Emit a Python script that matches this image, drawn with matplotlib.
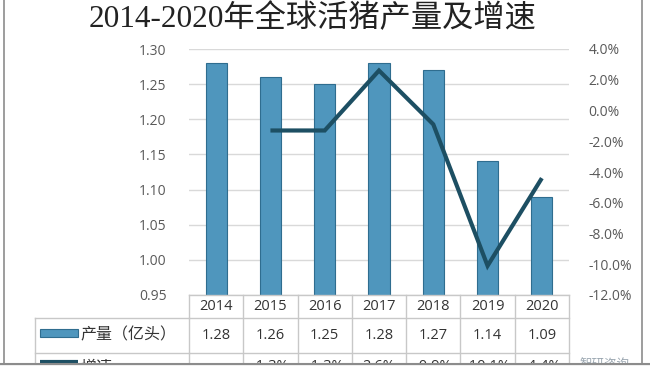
import matplotlib.pyplot as plt
import matplotlib.transforms as mtransforms
from matplotlib.lines import Line2D
from matplotlib.patches import Rectangle

years = ['2014', '2015', '2016', '2017', '2018', '2019', '2020']
output = [1.28, 1.26, 1.25, 1.28, 1.27, 1.14, 1.09]          # 亿头
growth = [None, -1.3, -1.3, 2.6, -0.9, -10.1, -4.4]          # %
growth_labels = ['', '-1.3%', '-1.3%', '2.6%', '-0.9%', '-10.1%', '-4.4%']

title = '2014-2020年全球活猪产量及增速'
row_names = ['产量（亿头）', '增速']

W, H = 650, 366
bar_color = '#4f96bd'
bar_edge = '#2f6d8f'
line_color = '#1d4f63'
grid_color = '#d9d9d9'
tick_color = '#595959'
cell_color = '#c8c8c8'

plt.rcParams['font.family'] = ['Open Sans', 'Noto Sans CJK SC', 'DejaVu Sans']


def fx(x):
    return x / W


def fy(y):
    return 1 - y / H


fig = plt.figure(figsize=(6.5, 3.66), dpi=100)
ax = fig.add_axes([fx(189), fy(295), fx(569) - fx(189), fy(49) - fy(295)])

xs = list(range(len(years)))
ax.bar(xs, output, width=0.39, color=bar_color, edgecolor=bar_edge, linewidth=0.8, zorder=2)
ax.set_xlim(-0.5, len(years) - 0.5)
ax.set_ylim(0.95, 1.30)
ax.set_yticks([0.95 + 0.05 * i for i in range(8)])
ax.yaxis.set_major_formatter(plt.FormatStrFormatter('%.2f'))
ax.set_xticks([])
ax.grid(axis='y', color=grid_color, linewidth=1, zorder=0)
ax.tick_params(axis='y', length=0, pad=16, labelsize=10, labelcolor=tick_color)
for s in ax.spines.values():
    s.set_visible(False)

ax2 = ax.twinx()
gx = [x for x, g in zip(xs, growth) if g is not None]
gy = [g for g in growth if g is not None]
ax2.plot(gx, gy, color=line_color, linewidth=3, solid_capstyle='butt', solid_joinstyle='miter', zorder=3)
ax2.set_ylim(-12, 4)
ax2.set_yticks(list(range(-12, 5, 2)))
ax2.yaxis.set_major_formatter(plt.FormatStrFormatter('%.1f%%'))
ax2.tick_params(axis='y', length=0, pad=14, labelsize=10, labelcolor=tick_color)
for s in ax2.spines.values():
    s.set_visible(False)

# title
fig.text(fx(313), fy(19), title, ha='center', va='center', fontsize=22.5,
         color='#222222', family=['Liberation Serif', 'Noto Sans CJK SC'])

# data table under the chart
blend = mtransforms.blended_transform_factory(ax.transData, fig.transFigure)
n = len(years)
for i in range(n + 1):
    fig.add_artist(Line2D([i - 0.5, i - 0.5], [fy(295), fy(366)], transform=blend,
                          color=cell_color, linewidth=1))
fig.add_artist(Line2D([-0.5, n - 0.5], [fy(295), fy(295)], transform=blend, color=cell_color, linewidth=1))
for yy in (318, 352.5):
    fig.add_artist(Line2D([fx(35), fx(189)], [fy(yy), fy(yy)], transform=fig.transFigure,
                          color=cell_color, linewidth=1))
    fig.add_artist(Line2D([-0.5, n - 0.5], [fy(yy), fy(yy)], transform=blend, color=cell_color, linewidth=1))
fig.add_artist(Line2D([fx(35), fx(35)], [fy(318), fy(366)], transform=fig.transFigure,
                      color=cell_color, linewidth=1))

for i, yr in enumerate(years):
    fig.text(i, fy(307), yr, transform=blend, ha='center', va='center', fontsize=10.5, color='#333333')
    fig.text(i, fy(335.5), '%.2f' % output[i], transform=blend, ha='center', va='center',
             fontsize=10.5, color='#333333')
    fig.text(i, fy(366), growth_labels[i], transform=blend, ha='center', va='center',
             fontsize=10.5, color='#333333')

# row labels with legend keys
fig.add_artist(Rectangle((fx(40), fy(337)), fx(38), fy(329) - fy(337), transform=fig.transFigure,
                         facecolor=bar_color, edgecolor=bar_edge, linewidth=0.8))
fig.text(fx(80), fy(335.5), row_names[0], ha='left', va='center', fontsize=11.5, color='#333333')
fig.add_artist(Line2D([fx(40), fx(78)], [fy(362), fy(362)], transform=fig.transFigure,
                      color=line_color, linewidth=3, solid_capstyle='butt'))
fig.text(fx(80), fy(368), row_names[1], ha='left', va='center', fontsize=11.5, color='#333333')

# watermark, cut by the frame
fig.text(fx(605), fy(364), '智研咨询', ha='center', va='center', fontsize=9, color='#9aa6b0')

# cover below the bottom frame line
fig.add_artist(Rectangle((0, 0), 1, fy(363.5), transform=fig.transFigure,
                         facecolor='#f4f4f4', edgecolor='none', zorder=10))
frame_color = '#8c8c8c'
fig.add_artist(Line2D([0, 1], [fy(363.5), fy(363.5)], transform=fig.transFigure,
                      color=frame_color, linewidth=1.5, zorder=11))
fig.add_artist(Line2D([fx(4), fx(4)], [fy(0), fy(363.5)], transform=fig.transFigure,
                      color=frame_color, linewidth=1.2, zorder=11))
fig.add_artist(Line2D([fx(642), fx(642)], [fy(0), fy(363.5)], transform=fig.transFigure,
                      color=frame_color, linewidth=1.2, zorder=11))

fig.savefig('out.png', dpi=100)
